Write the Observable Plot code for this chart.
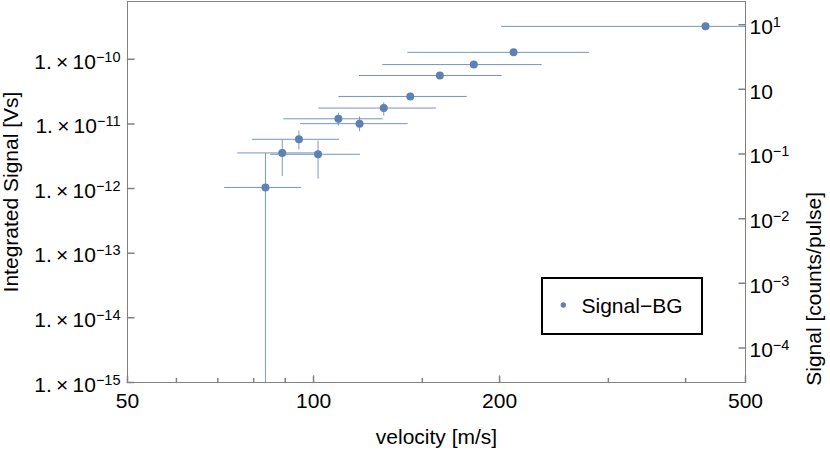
<!DOCTYPE html>
<html><head><meta charset="utf-8">
<script src="https://cdn.jsdelivr.net/npm/d3@7"></script>
<script src="https://cdn.jsdelivr.net/npm/@observablehq/plot@0.6"></script>
<style>
body{margin:0;background:#fff;}
#chart{width:830px;height:450px;}
</style></head><body><div id="chart"></div>
<script>
// ---- data ----
const velocity = [83.6, 89.0, 94.7, 101.7, 109.7, 118.7, 129.9, 143.4, 160.1, 181.7, 210.7, 430.8];
const velocityLow = [71.8, 75.4, 79.6, 85.2, 89.5, 95.3, 102.0, 109.9, 118.7, 129.4, 142.1, 201.5];
const velocityHigh = [95.6, 102.6, 110.2, 119.1, 129.6, 142.3, 158.0, 177.3, 202.0, 234.4, 279.6, 900];
const signal = [1.04e-12, 3.56e-12, 5.78e-12, 3.39e-12, 1.20e-11, 1.01e-11, 1.76e-11, 2.66e-11, 5.61e-11, 8.28e-11, 1.28e-10, 3.23e-10];
const signalLow = [1e-17, 1.53e-12, 3.95e-12, 1.40e-12, 9.27e-12, 7.57e-12, 1.32e-11, 2.28e-11, 5.45e-11, 8.05e-11, 1.25e-10, 3.18e-10];
const signalHigh = [3.47e-12, 5.64e-12, 7.76e-12, 5.44e-12, 1.47e-11, 1.28e-11, 2.12e-11, 2.99e-11, 5.8e-11, 8.5e-11, 1.31e-10, 3.28e-10];

const xMajorTicks = [50, 100, 200, 500];
const xMinorTicks = [60, 70, 80, 90, 150, 300, 400];
const yTicks = [1e-10, 1e-11, 1e-12, 1e-13, 1e-14, 1e-15];
const rightExponents = [1, 0, -1, -2, -3, -4];
const rightTickLabels = ["10|1", "10", "10|\u22121", "10|\u22122", "10|\u22123", "10|\u22124"];
const countsPerVs = 2.92e10;
const seriesName = "Signal\u2212BG";
const xLabel = "velocity [m/s]";
const yLabel = "Integrated Signal [Vs]";
const y2Label = "Signal [counts/pulse]";

const data = velocity.map((v, i) => ({
  v, vLow: velocityLow[i], vHigh: velocityHigh[i],
  s: signal[i], sLow: signalLow[i], sHigh: signalHigh[i]
}));
const rightTickData = rightExponents.map((e, i) => ({y: Math.pow(10, e) / countsPerVs, label: rightTickLabels[i]}));

const blue = "#5E81B5";
const gray = "#808080";
const tickLine = {draw(ctx, l) { ctx.moveTo(0, 0); ctx.lineTo(0, -l); }};
const xDomain = [50, 500];
const yDomain = [1e-15, 7.83e-10];

const plot = Plot.plot({
  width: 830, height: 450,
  marginLeft: 127, marginRight: 85, marginTop: 1, marginBottom: 68,
  style: {fontFamily: "'Liberation Sans', Arial, sans-serif", fontSize: "21px", color: "#000", background: "#fff"},
  x: {type: "log", domain: xDomain},
  y: {type: "log", domain: yDomain},
  marks: [
    Plot.ruleY(data, {y: "s", x1: "vLow", x2: "vHigh", stroke: blue, strokeWidth: 1, strokeOpacity: 0.85, clip: true}),
    Plot.ruleX(data, {x: "v", y1: "sLow", y2: "sHigh", stroke: blue, strokeWidth: 1, strokeOpacity: 0.8, clip: true}),
    Plot.dot(data, {x: "v", y: "s", r: 4, fill: blue, clip: true}),
    Plot.frame({stroke: gray}),
    Plot.vector(xMajorTicks, {x: d => d, frameAnchor: "bottom", length: 6.5, rotate: 0, anchor: "start", shape: tickLine, stroke: gray}),
    Plot.vector(xMinorTicks, {x: d => d, frameAnchor: "bottom", length: 4, rotate: 0, anchor: "start", shape: tickLine, stroke: gray}),
    Plot.vector(yTicks, {y: d => d, frameAnchor: "left", length: 6.5, rotate: 90, anchor: "start", shape: tickLine, stroke: gray}),
    Plot.vector(rightTickData, {y: "y", frameAnchor: "right", length: 6.5, rotate: -90, anchor: "start", shape: tickLine, stroke: gray}),
    Plot.axisX({ticks: xMajorTicks, tickSize: 0, tickPadding: 11, tickFormat: d => String(d),
      label: xLabel, labelAnchor: "center", labelArrow: "none", labelOffset: 61}),
    Plot.axisY({anchor: "left", ticks: yTicks, tickSize: 0, tickPadding: 7, dy: 2.5,
      tickFormat: d => "1.\u2009\u00d7\u200910|\u2212" + (-Math.round(Math.log10(d))),
      label: yLabel, labelAnchor: "center", labelArrow: "none"}),
    Plot.text(rightTickData, {y: "y", text: "label", frameAnchor: "right", textAnchor: "start", dx: 4, dy: 2.5}),
    Plot.text([y2Label], {frameAnchor: "right", rotate: -90, dx: 69})
  ]
});

const svg = d3.select(plot);
svg.selectAll("text").each(function() {
  const t = this.textContent;
  if (t.includes("|")) {
    const [a, b] = t.split("|");
    const sel = d3.select(this);
    sel.text(null);
    sel.append("tspan").text(a);
    sel.append("tspan").attr("dy", -7).attr("font-size", 14.5).text(b);
  }
});

// legend
const lg = svg.append("g");
lg.append("rect").attr("x", 542).attr("y", 278).attr("width", 160).attr("height", 56)
  .attr("fill", "#fff").attr("stroke", "#000").attr("stroke-width", 2);
lg.append("circle").attr("cx", 563.3).attr("cy", 305).attr("r", 2.7).attr("fill", blue);
lg.append("text").attr("x", 581.5).attr("y", 313).attr("font-size", 21).attr("fill", "#000")
  .attr("text-anchor", "start").text(seriesName);

document.getElementById("chart").appendChild(plot);
</script>
</body></html>
